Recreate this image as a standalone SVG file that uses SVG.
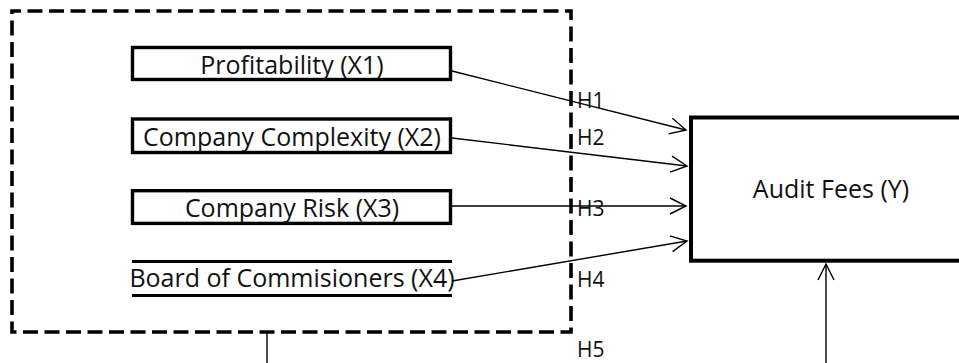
<svg xmlns="http://www.w3.org/2000/svg" width="959" height="363" viewBox="0 0 959 363">
<style>
.lbl{font-family:"Open Sans","Liberation Sans",sans-serif;font-size:25px;fill:#111;text-anchor:middle}
.h{font-family:"Open Sans","Liberation Sans",sans-serif;font-size:21px;fill:#111}
.box{fill:#fff;stroke:#000;stroke-width:3.4}
.conn{stroke:#000;stroke-width:1.4;fill:none}
</style>
<defs>
<marker id="arr" markerUnits="userSpaceOnUse" markerWidth="20" markerHeight="20" viewBox="-18 -10 20 20" refX="0" refY="0" orient="auto">
<path d="M-16,-8 L0,0 L-16,8" fill="none" stroke="#000" stroke-width="1.4"/>
</marker>
</defs>
<rect id="frame" x="12" y="11" width="559" height="321" fill="none" stroke="#000" stroke-width="3.6" stroke-dasharray="15 6.5" stroke-dashoffset="6"/>
<g id="x1">
<rect class="box" x="132.5" y="47.5" width="318" height="32"/>
<text class="lbl" x="292" y="74">Profitability (X1)</text>
</g>
<g id="x2">
<rect class="box" x="132.5" y="119" width="318" height="33.5"/>
<text class="lbl" x="292" y="145.5">Company Complexity (X2)</text>
</g>
<g id="x3">
<rect class="box" x="132.5" y="190.7" width="318" height="32.7"/>
<text class="lbl" x="292" y="217">Company Risk (X3)</text>
</g>
<g id="x4">
<line x1="132" y1="261.5" x2="452" y2="261.5" stroke="#000" stroke-width="3.2"/>
<line x1="132" y1="295.5" x2="452" y2="295.5" stroke="#000" stroke-width="3.2"/>
<text class="lbl" x="292" y="287">Board of Commisioners (X4)</text>
</g>
<g id="y">
<rect x="691" y="117.5" width="280" height="143.2" fill="#fff" stroke="#000" stroke-width="4"/>
<text class="lbl" x="831" y="198">Audit Fees (Y)</text>
</g>
<g id="connectors">
<line class="conn" x1="452" y1="71" x2="686" y2="130" marker-end="url(#arr)"/>
<line class="conn" x1="452" y1="138" x2="687" y2="166" marker-end="url(#arr)"/>
<line class="conn" x1="452" y1="206" x2="686" y2="206" marker-end="url(#arr)"/>
<line class="conn" x1="452" y1="281" x2="687" y2="241" marker-end="url(#arr)"/>
<line class="conn" x1="267" y1="333" x2="267" y2="363"/>
<line class="conn" x1="826" y1="363" x2="826" y2="264" marker-end="url(#arr)"/>
</g>
<g id="hlabels">
<text class="h" x="577" y="108">H1</text>
<text class="h" x="577" y="145">H2</text>
<text class="h" x="577" y="216">H3</text>
<text class="h" x="577" y="287">H4</text>
<text class="h" x="577" y="357">H5</text>
</g>
</svg>
